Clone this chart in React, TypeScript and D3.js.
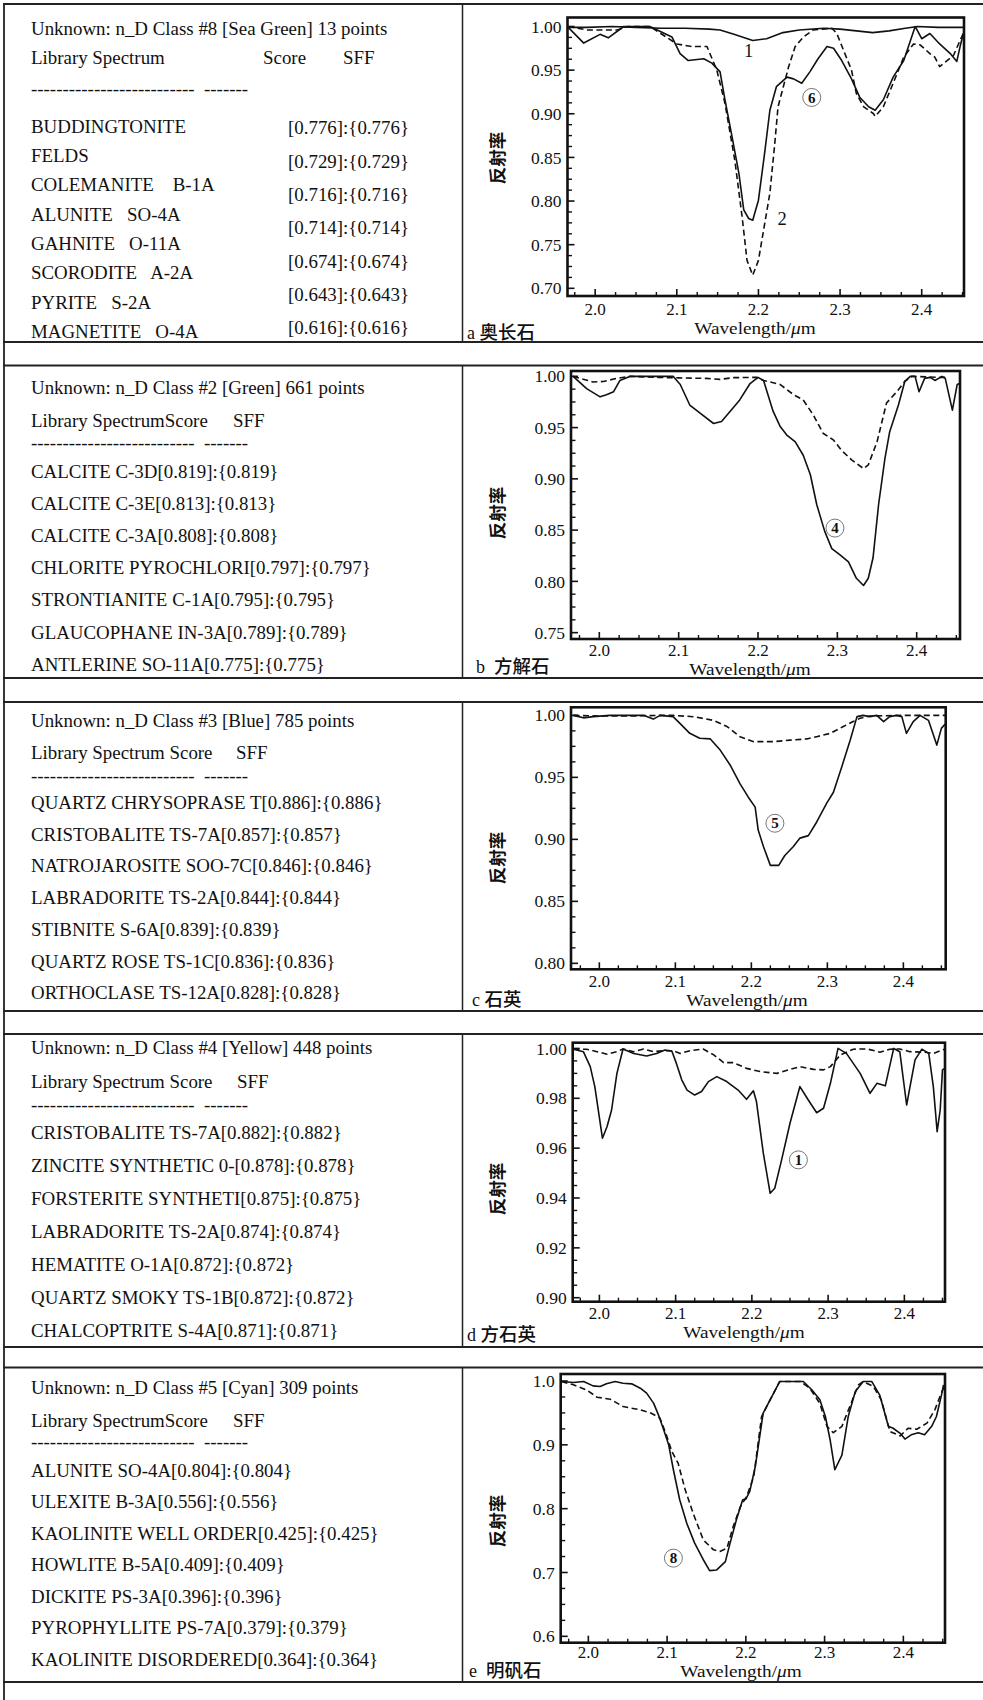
import React from 'react';
import * as d3 from 'd3';

type Pt = [number, number];

const SERIF = '"Liberation Serif", "Times New Roman", serif';
const CJK = '"Noto Sans CJK SC", "Noto Sans", sans-serif';

// ---------------- shared ticks ----------------
const xMajorTicks = [2.0, 2.1, 2.2, 2.3, 2.4];
const aYTicks = [0.7, 0.75, 0.8, 0.85, 0.9, 0.95, 1.0];
const bYTicks = [0.75, 0.8, 0.85, 0.9, 0.95, 1.0];
const cYTicks = [0.8, 0.85, 0.9, 0.95, 1.0];
const dYTicks = [0.9, 0.92, 0.94, 0.96, 0.98, 1.0];
const eYTicks = [0.6, 0.7, 0.8, 0.9, 1.0];

// ---------------- panel a : 奥长石 ----------------
const aCurve1: Pt[] = [
  [1.967, 0.999], [1.99, 0.999], [2.02, 1.0], [2.05, 0.999], [2.08, 0.998], [2.11, 0.998],
  [2.14, 0.997], [2.153, 0.996], [2.17, 0.991], [2.193, 0.984], [2.21, 0.986], [2.23, 0.993],
  [2.25, 0.996], [2.28, 0.998], [2.30, 0.997], [2.32, 0.995], [2.34, 0.993], [2.36, 0.995],
  [2.38, 0.998], [2.395, 1.0], [2.42, 0.999], [2.452, 0.999],
];
const aCurve2: Pt[] = [
  [1.967, 1.0], [1.99, 0.996], [2.027, 0.996], [2.04, 1.0], [2.067, 1.0], [2.1, 0.98],
  [2.118, 0.977], [2.137, 0.977], [2.149, 0.95], [2.159, 0.912], [2.171, 0.847], [2.18, 0.782],
  [2.186, 0.732], [2.193, 0.715], [2.2, 0.732], [2.214, 0.809], [2.22, 0.866], [2.224, 0.908],
  [2.237, 0.954], [2.245, 0.977], [2.255, 0.988], [2.267, 0.996], [2.29, 0.998], [2.296, 0.992],
  [2.314, 0.95], [2.32, 0.923], [2.329, 0.908], [2.341, 0.9], [2.343, 0.897], [2.353, 0.908],
  [2.365, 0.935], [2.378, 0.965], [2.39, 0.98], [2.398, 0.979], [2.41, 0.969], [2.416, 0.965],
  [2.422, 0.954], [2.43, 0.96], [2.439, 0.967], [2.447, 0.984], [2.451, 0.992],
];
const aCurve6: Pt[] = [
  [1.967, 0.999], [1.986, 0.981], [2.006, 0.991], [2.016, 0.987], [2.035, 1.0], [2.067, 1.0],
  [2.094, 0.988], [2.104, 0.969], [2.114, 0.961], [2.133, 0.963], [2.143, 0.958], [2.153, 0.948],
  [2.159, 0.916], [2.167, 0.877], [2.176, 0.832], [2.182, 0.79], [2.188, 0.78], [2.193, 0.778],
  [2.2, 0.801], [2.208, 0.858], [2.214, 0.904], [2.222, 0.931], [2.235, 0.942], [2.243, 0.94],
  [2.253, 0.935], [2.263, 0.948], [2.273, 0.963], [2.284, 0.977], [2.292, 0.975], [2.302, 0.961],
  [2.314, 0.94], [2.324, 0.919], [2.335, 0.908], [2.343, 0.904], [2.353, 0.916], [2.365, 0.942],
  [2.378, 0.961], [2.392, 1.0], [2.4, 0.986], [2.41, 0.992], [2.422, 0.98], [2.435, 0.969],
  [2.443, 0.96], [2.447, 0.977], [2.451, 0.992],
];
const aHeader = 'Unknown: n_D Class #8 [Sea Green] 13 points';
const aNames = [
  'BUDDINGTONITE', 'FELDS', 'COLEMANITE    B-1A', 'ALUNITE   SO-4A', 'GAHNITE   O-11A',
  'SCORODITE   A-2A', 'PYRITE   S-2A', 'MAGNETITE   O-4A',
];
const aScores = ['[0.776]:{0.776}', '[0.729]:{0.729}', '[0.716]:{0.716}', '[0.714]:{0.714}',
  '[0.674]:{0.674}', '[0.643]:{0.643}', '[0.616]:{0.616}'];

// ---------------- panel b : 方解石 ----------------
const bSolid: Pt[] = [
  [1.967, 1.0], [1.984, 0.988], [2.001, 0.98], [2.009, 0.982], [2.018, 0.985], [2.026, 0.996],
  [2.039, 1.0], [2.093, 1.0], [2.102, 0.992], [2.114, 0.972], [2.127, 0.964], [2.144, 0.954],
  [2.154, 0.956], [2.165, 0.966], [2.177, 0.977], [2.19, 0.993], [2.2, 0.999], [2.207, 0.996],
  [2.219, 0.966], [2.228, 0.951], [2.236, 0.943], [2.247, 0.936], [2.257, 0.923], [2.266, 0.904],
  [2.274, 0.875], [2.284, 0.849], [2.293, 0.832], [2.303, 0.826], [2.314, 0.819], [2.324, 0.803],
  [2.333, 0.796], [2.339, 0.803], [2.345, 0.823], [2.352, 0.875], [2.36, 0.92], [2.366, 0.946],
  [2.377, 0.972], [2.385, 0.995], [2.392, 1.0], [2.398, 1.0], [2.403, 0.985], [2.41, 0.998],
  [2.417, 0.999], [2.423, 0.996], [2.432, 1.0], [2.436, 0.998], [2.445, 0.967], [2.451, 0.992],
  [2.454, 0.993],
];
const bDashed: Pt[] = [
  [1.967, 1.0], [1.992, 0.9945], [2.005, 0.995], [2.022, 0.998], [2.039, 1.0], [2.07, 0.999],
  [2.1, 0.9985], [2.135, 0.998], [2.152, 0.997], [2.169, 0.9987], [2.198, 0.999], [2.207, 0.996],
  [2.228, 0.992], [2.245, 0.982], [2.257, 0.977], [2.27, 0.962], [2.282, 0.9445], [2.295, 0.938],
  [2.305, 0.928], [2.318, 0.9185], [2.333, 0.91], [2.339, 0.9136], [2.35, 0.936], [2.362, 0.974],
  [2.375, 0.985], [2.385, 0.995], [2.394, 1.0], [2.43, 0.999], [2.44, 0.999],
];
const bHeader = 'Unknown: n_D Class #2 [Green] 661 points';
const bLib = 'Library SpectrumScore';
const bRows = [
  'CALCITE C-3D[0.819]:{0.819}', 'CALCITE C-3E[0.813]:{0.813}', 'CALCITE C-3A[0.808]:{0.808}',
  'CHLORITE PYROCHLORI[0.797]:{0.797}', 'STRONTIANITE C-1A[0.795]:{0.795}',
  'GLAUCOPHANE IN-3A[0.789]:{0.789}', 'ANTLERINE SO-11A[0.775]:{0.775}',
];

// ---------------- panel c : 石英 ----------------
const cSolid: Pt[] = [
  [1.966, 1.0], [1.979, 0.998], [1.992, 0.999], [2.014, 1.0], [2.058, 1.0], [2.071, 0.997],
  [2.08, 1.0], [2.097, 0.999], [2.106, 0.9935], [2.119, 0.9855], [2.132, 0.9815], [2.146, 0.981],
  [2.159, 0.972], [2.172, 0.96], [2.185, 0.945], [2.196, 0.934], [2.205, 0.926], [2.209, 0.9075],
  [2.216, 0.894], [2.225, 0.879], [2.236, 0.879], [2.244, 0.887], [2.255, 0.894], [2.264, 0.901],
  [2.275, 0.903], [2.286, 0.914], [2.299, 0.929], [2.308, 0.938], [2.319, 0.9586], [2.33, 0.98],
  [2.339, 0.999], [2.347, 1.0], [2.356, 0.999], [2.365, 1.0], [2.374, 0.995], [2.382, 0.999],
  [2.391, 1.0], [2.398, 0.999], [2.404, 0.9855], [2.413, 0.995], [2.422, 1.0], [2.433, 0.996],
  [2.444, 0.976], [2.45, 0.9895], [2.455, 0.993],
];
const cDashed: Pt[] = [
  [1.966, 1.0], [2.0, 0.9995], [2.04, 0.9995], [2.08, 1.0], [2.097, 1.0], [2.124, 0.9989],
  [2.15, 0.996], [2.168, 0.991], [2.185, 0.9828], [2.203, 0.9788], [2.229, 0.9788], [2.251, 0.98],
  [2.273, 0.981], [2.286, 0.9828], [2.304, 0.9855], [2.321, 0.991], [2.334, 0.995], [2.343, 0.9976],
  [2.356, 0.9995], [2.4, 1.0], [2.455, 1.0],
];
const cHeader = 'Unknown: n_D Class #3 [Blue] 785 points';
const cLib = 'Library Spectrum Score';
const cRows = [
  'QUARTZ CHRYSOPRASE T[0.886]:{0.886}', 'CRISTOBALITE TS-7A[0.857]:{0.857}',
  'NATROJAROSITE SOO-7C[0.846]:{0.846}', 'LABRADORITE TS-2A[0.844]:{0.844}',
  'STIBNITE S-6A[0.839]:{0.839}', 'QUARTZ ROSE TS-1C[0.836]:{0.836}',
  'ORTHOCLASE TS-12A[0.828]:{0.828}',
];

// ---------------- panel d : 方石英 ----------------
const dSolid: Pt[] = [
  [1.966, 0.9997], [1.979, 0.9987], [1.988, 0.9927], [1.994, 0.9847], [2.004, 0.964], [2.01, 0.9686],
  [2.016, 0.9753], [2.023, 0.99], [2.031, 0.9998], [2.045, 0.998], [2.062, 0.997], [2.075, 0.998],
  [2.086, 0.9994], [2.095, 0.999], [2.101, 0.994], [2.108, 0.9874], [2.115, 0.9833], [2.125, 0.9813],
  [2.134, 0.9827], [2.143, 0.9867], [2.154, 0.9887], [2.167, 0.9867], [2.182, 0.9833], [2.193, 0.9796],
  [2.202, 0.983], [2.206, 0.9787], [2.215, 0.958], [2.224, 0.9419], [2.23, 0.9439], [2.239, 0.9553],
  [2.25, 0.97], [2.263, 0.9847], [2.274, 0.9793], [2.285, 0.9742], [2.294, 0.976], [2.303, 0.986],
  [2.313, 1.0], [2.324, 0.998], [2.342, 0.99], [2.355, 0.982], [2.364, 0.986], [2.375, 0.985],
  [2.386, 1.0], [2.394, 0.9987], [2.403, 0.9773], [2.407, 0.984], [2.414, 0.9954], [2.423, 0.9997],
  [2.432, 0.998], [2.438, 0.9847], [2.443, 0.9666], [2.447, 0.9753], [2.45, 0.9914], [2.453, 0.992],
];
const dDashed: Pt[] = [
  [1.966, 0.9997], [1.983, 0.9997], [1.997, 0.9987], [2.01, 0.9977], [2.023, 0.9987], [2.031, 0.9998],
  [2.045, 0.9987], [2.058, 0.9998], [2.071, 0.9987], [2.084, 0.9991], [2.097, 0.999], [2.106, 0.998],
  [2.119, 0.9991], [2.136, 0.9998], [2.15, 0.9974], [2.163, 0.9943], [2.176, 0.9943], [2.193, 0.992],
  [2.211, 0.9907], [2.233, 0.99], [2.25, 0.9916], [2.263, 0.9927], [2.281, 0.9916], [2.294, 0.9914],
  [2.303, 0.9927], [2.316, 0.9974], [2.333, 0.9997], [2.351, 0.9998], [2.368, 0.9985], [2.381, 0.9997],
  [2.394, 0.9998], [2.407, 0.9987], [2.425, 0.9985], [2.438, 0.998], [2.453, 0.9997],
];
const dHeader = 'Unknown: n_D Class #4 [Yellow] 448 points';
const dLib = 'Library Spectrum Score';
const dRows = [
  'CRISTOBALITE TS-7A[0.882]:{0.882}', 'ZINCITE SYNTHETIC 0-[0.878]:{0.878}',
  'FORSTERITE SYNTHETI[0.875]:{0.875}', 'LABRADORITE TS-2A[0.874]:{0.874}',
  'HEMATITE O-1A[0.872]:{0.872}', 'QUARTZ SMOKY TS-1B[0.872]:{0.872}',
  'CHALCOPTRITE S-4A[0.871]:{0.871}',
];

// ---------------- panel e : 明矾石 ----------------
const eSolid: Pt[] = [
  [1.966, 0.9992], [1.981, 0.9977], [1.994, 0.9992], [2.006, 0.9924], [2.015, 0.9914], [2.023, 0.9956],
  [2.034, 0.9992], [2.044, 0.9966], [2.055, 0.9956], [2.066, 0.9888], [2.074, 0.981], [2.083, 0.965],
  [2.089, 0.947], [2.095, 0.926], [2.102, 0.9], [2.108, 0.861], [2.116, 0.814], [2.125, 0.777],
  [2.135, 0.746], [2.146, 0.72], [2.154, 0.703], [2.163, 0.704], [2.174, 0.717], [2.18, 0.746],
  [2.188, 0.7825], [2.196, 0.814], [2.2, 0.815], [2.205, 0.827], [2.212, 0.866], [2.222, 0.9496],
  [2.233, 0.9757], [2.243, 0.9992], [2.273, 0.9992], [2.284, 0.986], [2.294, 0.9705], [2.301, 0.9444],
  [2.307, 0.908], [2.313, 0.861], [2.322, 0.884], [2.33, 0.9444], [2.339, 0.9836], [2.349, 0.9992],
  [2.36, 0.9992], [2.37, 0.978], [2.381, 0.929], [2.387, 0.926], [2.396, 0.918], [2.402, 0.909],
  [2.41, 0.9157], [2.419, 0.919], [2.427, 0.9157], [2.436, 0.929], [2.442, 0.9444], [2.449, 0.981],
  [2.451, 0.994],
];
const eDashed: Pt[] = [
  [1.966, 0.9992], [1.981, 0.994], [1.998, 0.986], [2.011, 0.9747], [2.028, 0.9715], [2.044, 0.96],
  [2.066, 0.9548], [2.08, 0.9496], [2.091, 0.9418], [2.099, 0.9157], [2.106, 0.8896], [2.114, 0.8713],
  [2.123, 0.8295], [2.133, 0.793], [2.146, 0.751], [2.159, 0.7355], [2.167, 0.733], [2.176, 0.738],
  [2.184, 0.772], [2.193, 0.803], [2.201, 0.819], [2.21, 0.85], [2.22, 0.9444], [2.233, 0.9757],
  [2.243, 0.9992], [2.269, 0.9992], [2.281, 0.989], [2.294, 0.965], [2.303, 0.929], [2.311, 0.919],
  [2.322, 0.929], [2.332, 0.96], [2.343, 0.994], [2.349, 0.9992], [2.362, 0.9914], [2.372, 0.9705],
  [2.383, 0.9209], [2.396, 0.914], [2.406, 0.926], [2.417, 0.9245], [2.43, 0.934], [2.44, 0.9548],
  [2.449, 0.9836], [2.452, 0.991],
];
const eHeader = 'Unknown: n_D Class #5 [Cyan] 309 points';
const eLib = 'Library SpectrumScore';
const eRows = [
  'ALUNITE SO-4A[0.804]:{0.804}', 'ULEXITE B-3A[0.556]:{0.556}',
  'KAOLINITE WELL ORDER[0.425]:{0.425}', 'HOWLITE B-5A[0.409]:{0.409}',
  'DICKITE PS-3A[0.396]:{0.396}', 'PYROPHYLLITE PS-7A[0.379]:{0.379}',
  'KAOLINITE DISORDERED[0.364]:{0.364}',
];

const DASH_ROW = '--------------------------  -------';

// ---------------- layout ----------------
interface Series { pts: Pt[]; dashed: boolean }
interface Note { x: number; y: number; text: string; circled: boolean }
interface Panel {
  frame: { x0: number; x1: number; y0: number; y1: number };
  xDomain: [number, number];
  yDomain: [number, number];
  yTicks: number[];
  yMinor: number;
  yFmt: string;
  series: Series[];
  notes: Note[];
  yLabelY: number;
  tagLetter: string;
  tagName: string;
  tagX: number;
  tagY: number;
  xLabelDy: number;
  wlX: number;
  wlY: number;
}

const panels: Panel[] = [
  {
    frame: { x0: 567.5, x1: 964, y0: 17.5, y1: 296 }, xDomain: [1.9661, 2.4518], yDomain: [0.6912, 1.0103],
    yTicks: aYTicks, yMinor: 0.0125, yFmt: '.2f',
    series: [{ pts: aCurve1, dashed: false }, { pts: aCurve2, dashed: true }, { pts: aCurve6, dashed: false }],
    notes: [
      { x: 2.188, y: 0.973, text: '1', circled: false },
      { x: 2.229, y: 0.78, text: '2', circled: false },
      { x: 2.2653, y: 0.9187, text: '6', circled: true },
    ],
    yLabelY: 158, tagLetter: 'a ', tagName: '奥长石', tagX: 467, tagY: 339, xLabelDy: 18.5, wlX: 755, wlY: 334,
  },
  {
    frame: { x0: 571, x1: 960, y0: 371, y1: 639 }, xDomain: [1.9643, 2.4546], yDomain: [0.7438, 1.0052],
    yTicks: bYTicks, yMinor: 0.0125, yFmt: '.2f',
    series: [{ pts: bDashed, dashed: true }, { pts: bSolid, dashed: false }],
    notes: [{ x: 2.297, y: 0.852, text: '4', circled: true }],
    yLabelY: 513, tagLetter: 'b  ', tagName: '方解石', tagX: 476, tagY: 673, xLabelDy: 17, wlX: 750, wlY: 674.5,
  },
  {
    frame: { x0: 571, x1: 945.7, y0: 707.3, y1: 969.3 }, xDomain: [1.9627, 2.4557], yDomain: [0.7952, 1.0065],
    yTicks: cYTicks, yMinor: 0.0125, yFmt: '.2f',
    series: [{ pts: cDashed, dashed: true }, { pts: cSolid, dashed: false }],
    notes: [{ x: 2.231, y: 0.913, text: '5', circled: true }],
    yLabelY: 858, tagLetter: 'c ', tagName: '石英', tagX: 472, tagY: 1006, xLabelDy: 18, wlX: 747, wlY: 1006,
  },
  {
    frame: { x0: 572.7, x1: 945, y0: 1042.7, y1: 1301.7 }, xDomain: [1.965, 2.4533], yDomain: [0.8984, 1.0023],
    yTicks: dYTicks, yMinor: 0.005, yFmt: '.2f',
    series: [{ pts: dDashed, dashed: true }, { pts: dSolid, dashed: false }],
    notes: [{ x: 2.261, y: 0.9553, text: '1', circled: true }],
    yLabelY: 1189, tagLetter: 'd ', tagName: '方石英', tagX: 467, tagY: 1341, xLabelDy: 17, wlX: 744, wlY: 1337.5,
  },
  {
    frame: { x0: 560.7, x1: 945, y0: 1374, y1: 1642.7 }, xDomain: [1.9649, 2.4529], yDomain: [0.59, 1.011],
    yTicks: eYTicks, yMinor: 0.025, yFmt: '.1f',
    series: [{ pts: eDashed, dashed: true }, { pts: eSolid, dashed: false }],
    notes: [{ x: 2.108, y: 0.7225, text: '8', circled: true }],
    yLabelY: 1521, tagLetter: 'e  ', tagName: '明矾石', tagX: 469, tagY: 1677, xLabelDy: 15.5, wlX: 741, wlY: 1677,
  },
];

interface TextBlock {
  header: string; headerY: number;
  lib: string; libY: number; scoreX?: number; sffX: number;
  dashY: number;
  rows: string[]; rowY0: number; rowStep: number;
  scores?: string[]; scoreY0?: number; scoreStep?: number; scoreColX?: number;
}

const blocks: TextBlock[] = [
  {
    header: aHeader, headerY: 34.5, lib: 'Library Spectrum', libY: 64, scoreX: 263, sffX: 343,
    dashY: 94.5, rows: aNames, rowY0: 132.7, rowStep: 29.3,
    scores: aScores, scoreY0: 134.3, scoreStep: 33.33, scoreColX: 288,
  },
  { header: bHeader, headerY: 394.3, lib: bLib, libY: 426.7, sffX: 233, dashY: 449, rows: bRows, rowY0: 477.7, rowStep: 32.17 },
  { header: cHeader, headerY: 727.3, lib: cLib, libY: 759, sffX: 236, dashY: 782, rows: cRows, rowY0: 809, rowStep: 31.7 },
  { header: dHeader, headerY: 1054.3, lib: dLib, libY: 1087.7, sffX: 237, dashY: 1111, rows: dRows, rowY0: 1139.3, rowStep: 33 },
  { header: eHeader, headerY: 1394.3, lib: eLib, libY: 1426.7, sffX: 233, dashY: 1448, rows: eRows, rowY0: 1476.7, rowStep: 31.55 },
];

const rowBounds: [number, number][] = [[4, 342], [365.5, 678], [702, 1011], [1034, 1347], [1367.5, 1682]];

const W = 983;
const H = 1700;
const TEXT_X = 31;
const DIVIDER_X = 462.5;
const TXT_SIZE = 18.9;

function ChartPanel({ p }: { p: Panel }) {
  const { frame } = p;
  const x = d3.scaleLinear().domain(p.xDomain).range([frame.x0, frame.x1]);
  const y = d3.scaleLinear().domain(p.yDomain).range([frame.y1, frame.y0]);
  const line = d3.line<Pt>().x((d) => x(d[0])).y((d) => y(d[1]));
  const fmt = d3.format(p.yFmt);
  const xMinor = d3.range(Math.ceil(p.xDomain[0] / 0.025), Math.floor(p.xDomain[1] / 0.025) + 1)
    .map((k) => k * 0.025)
    .filter((v) => !xMajorTicks.some((m) => Math.abs(m - v) < 1e-6));
  const yMinor = d3.range(Math.ceil(p.yDomain[0] / p.yMinor - 1e-6), Math.floor(p.yDomain[1] / p.yMinor + 1e-6) + 1)
    .map((k) => k * p.yMinor)
    .filter((v) => !p.yTicks.some((m) => Math.abs(m - v) < 1e-6));
  const clipId = `clip-${Math.round(frame.y0)}`;
  return (
    <g>
      <defs>
        <clipPath id={clipId}>
          <rect x={frame.x0} y={frame.y0} width={frame.x1 - frame.x0} height={frame.y1 - frame.y0} />
        </clipPath>
      </defs>
      <g clipPath={`url(#${clipId})`}>
        {p.series.map((s, i) => (
          <path key={i} d={line(s.pts) || ''} fill="none" stroke="#111" strokeWidth={1.6}
            strokeDasharray={s.dashed ? '6,3.5' : undefined} strokeLinejoin="round" />
        ))}
      </g>
      <rect x={frame.x0} y={frame.y0} width={frame.x1 - frame.x0} height={frame.y1 - frame.y0}
        fill="none" stroke="#111" strokeWidth={2.6} />
      {xMajorTicks.map((t) => (
        <g key={`xm${t}`}>
          <line x1={x(t)} x2={x(t)} y1={frame.y1} y2={frame.y1 - 7} stroke="#111" strokeWidth={1.6} />
          <text x={x(t)} y={frame.y1 + p.xLabelDy} textAnchor="middle" fontFamily={SERIF} fontSize={17} fill="#111">
            {t.toFixed(1)}
          </text>
        </g>
      ))}
      {xMinor.map((t) => (
        <line key={`xn${t}`} x1={x(t)} x2={x(t)} y1={frame.y1} y2={frame.y1 - 4} stroke="#111" strokeWidth={1.4} />
      ))}
      {p.yTicks.map((t) => (
        <g key={`ym${t}`}>
          <line x1={frame.x0} x2={frame.x0 + 7} y1={y(t)} y2={y(t)} stroke="#111" strokeWidth={1.6} />
          <text x={frame.x0 - 6} y={y(t)} dy="0.35em" textAnchor="end" fontFamily={SERIF} fontSize={17.5} fill="#111">
            {fmt(t)}
          </text>
        </g>
      ))}
      {yMinor.map((t) => (
        <line key={`yn${t}`} x1={frame.x0} x2={frame.x0 + 4.5} y1={y(t)} y2={y(t)} stroke="#111" strokeWidth={1.4} />
      ))}
      <text transform={`translate(498,${p.yLabelY}) rotate(-90)`} textAnchor="middle" dy="0.35em"
        fontFamily={CJK} fontWeight={700} fontSize={17.5} fill="#111">反射率</text>
      <text transform={`translate(${p.wlX},${p.wlY}) scale(1.1,1)`} textAnchor="middle" fontFamily={SERIF}
        fontSize={17.5} fill="#111">
        Wavelength/<tspan fontStyle="italic">μ</tspan>m
      </text>
      <text x={p.tagX} y={p.tagY} fill="#111" style={{ whiteSpace: 'pre' }}>
        <tspan fontFamily={SERIF} fontSize={18}>{p.tagLetter}</tspan>
        <tspan fontFamily={CJK} fontWeight={500} fontSize={18.5}>{p.tagName}</tspan>
      </text>
      {p.notes.map((n, i) => (
        <g key={`n${i}`} transform={`translate(${x(n.x)},${y(n.y)})`}>
          {n.circled && <circle r={9} fill="white" stroke="#555" strokeWidth={0.8} />}
          <text textAnchor="middle" dy="0.35em" fontFamily={SERIF} fontWeight={n.circled ? 700 : 400}
            fontSize={n.circled ? 15 : 18.5} fill="#111">{n.text}</text>
        </g>
      ))}
    </g>
  );
}

function TextPanel({ b }: { b: TextBlock }) {
  const common = { fontFamily: SERIF, fontSize: TXT_SIZE, fill: '#111', style: { whiteSpace: 'pre' as const } };
  return (
    <g>
      <text x={TEXT_X} y={b.headerY} {...common}>{b.header}</text>
      <text x={TEXT_X} y={b.libY} {...common}>{b.lib}</text>
      {b.scoreX !== undefined && <text x={b.scoreX} y={b.libY} {...common}>Score</text>}
      <text x={b.sffX} y={b.libY} {...common}>SFF</text>
      <text x={TEXT_X} y={b.dashY} {...common}>{DASH_ROW}</text>
      {b.rows.map((r, i) => (
        <text key={i} x={TEXT_X} y={b.rowY0 + i * b.rowStep} {...common}>{r}</text>
      ))}
      {b.scores && b.scores.map((s, i) => (
        <text key={`s${i}`} x={b.scoreColX} y={(b.scoreY0 as number) + i * (b.scoreStep as number)} {...common}>{s}</text>
      ))}
    </g>
  );
}

export default function App() {
  return (
    <svg width={W} height={H} viewBox={`0 0 ${W} ${H}`}
      style={{ position: 'absolute', left: 0, top: 0, background: 'white' }}>
      <rect x={0} y={0} width={W} height={H} fill="white" />
      <line x1={4} x2={4} y1={3} y2={H} stroke="#222" strokeWidth={1.8} />
      {rowBounds.map(([t, bt], i) => (
        <g key={`r${i}`}>
          <line x1={3} x2={W} y1={t} y2={t} stroke="#222" strokeWidth={1.8} />
          <line x1={3} x2={W} y1={bt} y2={bt} stroke="#222" strokeWidth={1.8} />
          <line x1={DIVIDER_X} x2={DIVIDER_X} y1={t} y2={bt} stroke="#222" strokeWidth={1.5} />
        </g>
      ))}
      {blocks.map((b, i) => <TextPanel key={`t${i}`} b={b} />)}
      {panels.map((p, i) => <ChartPanel key={`p${i}`} p={p} />)}
    </svg>
  );
}
